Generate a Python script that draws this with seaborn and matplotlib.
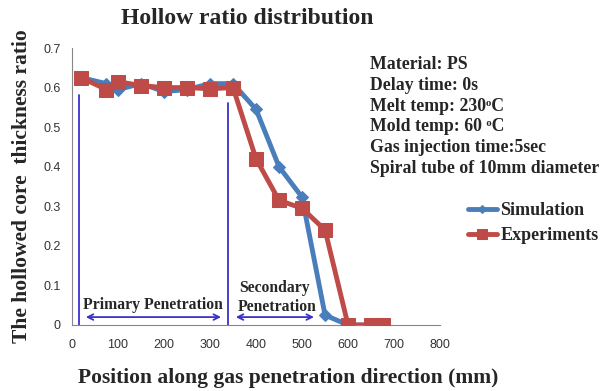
import numpy as np
import pandas as pd
import matplotlib
matplotlib.use("Agg")
import matplotlib.pyplot as plt
import seaborn as sns
from matplotlib.ticker import FuncFormatter

# values
position = [20, 75, 100, 150, 200, 250, 300, 350, 400, 450, 500, 550, 600, 650, 675]
simulation = [0.625, 0.61, 0.595, 0.61, 0.59, 0.595, 0.61, 0.61, 0.545, 0.40, 0.323, 0.025, 0.0, 0.0, 0.0]
experiments = [0.625, 0.595, 0.615, 0.605, 0.60, 0.60, 0.597, 0.60, 0.42, 0.315, 0.295, 0.24, 0.0, 0.0, 0.0]

info_lines = ["Material: PS", "Delay time: 0s", "Melt temp: 230\u1d52C", "Mold temp: 60 \u1d52C",
              "Gas injection time:5sec", "Spiral tube of 10mm diameter"]

df = pd.DataFrame({"pos": position, "sim": simulation, "exp": experiments})

sns.set_style("white")
plt.rcParams['font.family'] = ['Liberation Serif', 'DejaVu Serif']

blue = "#4a7ebb"
red = "#be4b48"
arrow_c = "#3a32c8"

fig = plt.figure(figsize=(6.07, 3.91), dpi=100)
ax = fig.add_axes([0.1186, 0.1688, 0.6064, 0.7084])

sns.lineplot(data=df, x="pos", y="sim", ax=ax, color=blue, lw=3.5, marker="D", markersize=6,
             markeredgecolor=blue, label="Simulation", zorder=3)
sns.lineplot(data=df, x="pos", y="exp", ax=ax, color=red, lw=3.5, marker="s", markersize=10,
             markeredgecolor=red, label="Experiments", zorder=4)

ax.set_xlim(0, 800)
ax.set_ylim(0, 0.7)
ax.set_xticks(np.arange(0, 801, 100))
ax.set_yticks(np.arange(0, 0.71, 0.1))
ax.yaxis.set_major_formatter(FuncFormatter(lambda v, p: "0" if abs(v) < 1e-9 else f"{v:.1f}"))
for lab in ax.get_xticklabels() + ax.get_yticklabels():
    lab.set_fontfamily("Liberation Sans")
    lab.set_fontsize(9)
    lab.set_color("#333333")
ax.tick_params(axis="x", length=0, pad=10)
ax.tick_params(axis="y", length=0, pad=8)
sns.despine(ax=ax)
for s in ["left", "bottom"]:
    ax.spines[s].set_color("#868686")
    ax.spines[s].set_linewidth(0.8)

ax.set_xlabel("Position along gas penetration direction (mm)", fontsize=15.5, fontweight="bold", labelpad=12)
ax.xaxis.set_label_coords(0.587, -0.155)
ax.set_ylabel("The hollowed core  thickness ratio", fontsize=15.5, fontweight="bold", labelpad=8)
fig.text(0.407, 0.953, "Hollow ratio distribution", ha="center", va="center", fontsize=17, fontweight="bold")

# penetration annotations
ax.plot([15, 15], [0, 0.58], color=arrow_c, lw=1.3, zorder=5)
ax.plot([339, 339], [0, 0.562], color=arrow_c, lw=1.3, zorder=5)
ax.annotate("", xy=(24, 0.02), xytext=(330, 0.02),
            arrowprops=dict(arrowstyle="<->", color=arrow_c, lw=1.3), zorder=5)
ax.annotate("", xy=(350, 0.02), xytext=(532, 0.02),
            arrowprops=dict(arrowstyle="<->", color=arrow_c, lw=1.3), zorder=5)
ax.text(177, 0.05, "Primary Penetration", ha="center", va="center", fontsize=11.3, fontweight="bold", zorder=6)
ax.text(440, 0.093, "Secondary", ha="center", va="center", fontsize=11.3, fontweight="bold", zorder=6)
ax.text(445, 0.045, "Penetration", ha="center", va="center", fontsize=11.3, fontweight="bold", zorder=6)

for i, line in enumerate(info_lines):
    fig.text(0.61, 0.834 - i * 0.0528, line, ha="left", va="center", fontsize=12.8, fontweight="bold")

handles, labels = ax.get_legend_handles_labels()
ax.legend_.remove()
fig.legend(handles, labels, loc="upper left", bbox_to_anchor=(0.744, 0.525), frameon=False,
           prop=dict(family="Liberation Serif", weight="bold", size=13), handlelength=1.6,
           handletextpad=0.2, labelspacing=0.45, markerscale=0.7)

fig.savefig("out.png", dpi=100)
